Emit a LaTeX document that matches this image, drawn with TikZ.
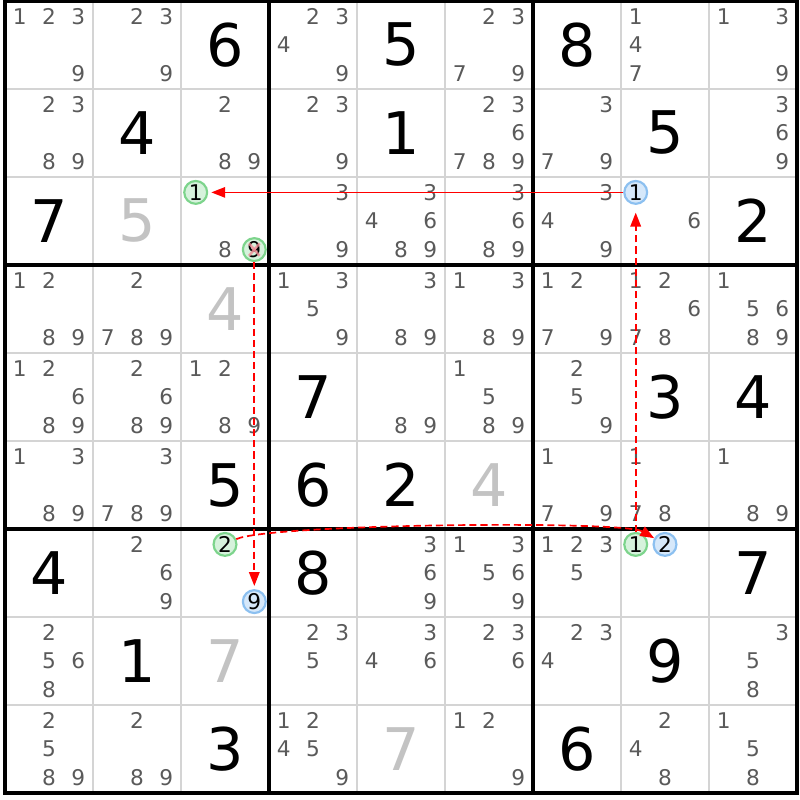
\documentclass[tikz,border=0pt]{standalone}
\usepackage{fontspec}
\setmainfont{DejaVu Sans}
\usetikzlibrary{arrows.meta}

\definecolor{candgray}{RGB}{90,90,90}
\definecolor{solvedgray}{RGB}{195,195,195}
\definecolor{gridgray}{RGB}{212,212,212}
\definecolor{greenline}{RGB}{125,212,140}
\definecolor{greenfill}{RGB}{214,242,220}
\definecolor{blueline}{RGB}{140,192,240}
\definecolor{bluefill}{RGB}{214,232,250}
\definecolor{crosspink}{RGB}{240,140,150}

\newcommand{\cand}[4][]{%
  \node[cand,#1] (r#2c#3-#4) at ({#3-0.5+(mod(#4-1,3)-1)*0.333},{-(#2-0.5)-(floor((#4-1)/3)-1)*0.325}) {#4};}
\newcommand{\candset}[3]{\foreach \d in {#3}{\cand{#1}{#2}{\d}}}
\newcommand{\givennum}[3]{\node[given] (g#1c#2) at (#2-0.5,-#1+0.5) {#3};}
\newcommand{\solvednum}[3]{\node[given,solved] (s#1c#2) at (#2-0.5,-#1+0.5) {#3};}

\begin{document}
\begin{tikzpicture}[
    cand/.style={text=candgray,font=\fontsize{7}{8}\selectfont,inner sep=0pt},
    given/.style={font=\fontsize{19}{20}\selectfont,inner sep=0pt},
    solved/.style={text=solvedgray},
    greenmark/.style={circle,draw=greenline,fill=greenfill,line width=0.7pt,minimum size=0.26cm,text=black},
    bluemark/.style={circle,draw=blueline,fill=bluefill,line width=0.7pt,minimum size=0.26cm,text=black},
    link/.style={red,line width=0.45pt,-{Triangle[length=4.5pt,width=3.4pt]}},
    weak/.style={link,line width=0.55pt,dash pattern=on 2.3pt off 1.3pt}
  ]
    \useasboundingbox (-0.0568,0.0114) rectangle (9.0341,-9.0795);
    % Grid
    \foreach \i in {1,...,8} {
        \draw[gridgray,line width=0.65pt] (\i,0) -- (\i,-9);
        \draw[gridgray,line width=0.65pt] (0,-\i) -- (9,-\i);
    }
    \foreach \i in {3,6} {
        \draw[line width=1pt] (\i,0) -- (\i,-9);
        \draw[line width=1pt] (0,-\i) -- (9,-\i);
    }
    \draw[line width=1pt] (0,0) rectangle (9,-9);

    % Row 1
    \candset{1}{1}{1,2,3,9}
    \candset{1}{2}{2,3,9}
    \givennum{1}{3}{6}
    \candset{1}{4}{2,3,4,9}
    \givennum{1}{5}{5}
    \candset{1}{6}{2,3,7,9}
    \givennum{1}{7}{8}
    \candset{1}{8}{1,4,7}
    \candset{1}{9}{1,3,9}
    % Row 2
    \candset{2}{1}{2,3,8,9}
    \givennum{2}{2}{4}
    \candset{2}{3}{2,8,9}
    \candset{2}{4}{2,3,9}
    \givennum{2}{5}{1}
    \candset{2}{6}{2,3,6,7,8,9}
    \candset{2}{7}{3,7,9}
    \givennum{2}{8}{5}
    \candset{2}{9}{3,6,9}
    % Row 3
    \givennum{3}{1}{7}
    \solvednum{3}{2}{5}
    \cand[greenmark]{3}{3}{1}
    \cand{3}{3}{8}
    \cand[greenmark]{3}{3}{9}
    \candset{3}{4}{3,9}
    \candset{3}{5}{3,4,6,8,9}
    \candset{3}{6}{3,6,8,9}
    \candset{3}{7}{3,4,9}
    \cand[bluemark]{3}{8}{1}
    \cand{3}{8}{6}
    \givennum{3}{9}{2}
    % Row 4
    \candset{4}{1}{1,2,8,9}
    \candset{4}{2}{2,7,8,9}
    \solvednum{4}{3}{4}
    \candset{4}{4}{1,3,5,9}
    \candset{4}{5}{3,8,9}
    \candset{4}{6}{1,3,8,9}
    \candset{4}{7}{1,2,7,9}
    \candset{4}{8}{1,2,6,7,8}
    \candset{4}{9}{1,5,6,8,9}
    % Row 5
    \candset{5}{1}{1,2,6,8,9}
    \candset{5}{2}{2,6,8,9}
    \candset{5}{3}{1,2,8,9}
    \givennum{5}{4}{7}
    \candset{5}{5}{8,9}
    \candset{5}{6}{1,5,8,9}
    \candset{5}{7}{2,5,9}
    \givennum{5}{8}{3}
    \givennum{5}{9}{4}
    % Row 6
    \candset{6}{1}{1,3,8,9}
    \candset{6}{2}{3,7,8,9}
    \givennum{6}{3}{5}
    \givennum{6}{4}{6}
    \givennum{6}{5}{2}
    \solvednum{6}{6}{4}
    \candset{6}{7}{1,7,9}
    \candset{6}{8}{1,7,8}
    \candset{6}{9}{1,8,9}
    % Row 7
    \givennum{7}{1}{4}
    \candset{7}{2}{2,6,9}
    \cand[greenmark]{7}{3}{2}
    \cand[bluemark]{7}{3}{9}
    \givennum{7}{4}{8}
    \candset{7}{5}{3,6,9}
    \candset{7}{6}{1,3,5,6,9}
    \candset{7}{7}{1,2,3,5}
    \cand[greenmark]{7}{8}{1}
    \cand[bluemark]{7}{8}{2}
    \givennum{7}{9}{7}
    % Row 8
    \candset{8}{1}{2,5,6,8}
    \givennum{8}{2}{1}
    \solvednum{8}{3}{7}
    \candset{8}{4}{2,3,5}
    \candset{8}{5}{3,4,6}
    \candset{8}{6}{2,3,6}
    \candset{8}{7}{2,3,4}
    \givennum{8}{8}{9}
    \candset{8}{9}{3,5,8}
    % Row 9
    \candset{9}{1}{2,5,8,9}
    \candset{9}{2}{2,8,9}
    \givennum{9}{3}{3}
    \candset{9}{4}{1,2,4,5,9}
    \solvednum{9}{5}{7}
    \candset{9}{6}{1,2,9}
    \givennum{9}{7}{6}
    \candset{9}{8}{2,4,8}
    \candset{9}{9}{1,5,8}

    % Eliminated candidate
    \draw[crosspink,opacity=0.8,line width=0.8pt] ([shift={(-0.06,0.07)}]r3c3-9.center) -- ([shift={(0.06,-0.07)}]r3c3-9.center);
    \draw[crosspink,opacity=0.8,line width=0.8pt] ([shift={(0.06,0.07)}]r3c3-9.center) -- ([shift={(-0.06,-0.07)}]r3c3-9.center);

    % Links
    \draw[link,shorten >=1pt] (r3c8-1) -- (r3c3-1);
    \draw[weak,shorten >=2.5pt] (r7c8-1) -- (r3c8-1);
    \draw[weak,shorten >=1pt] (r3c3-9) -- (r7c3-9);
    \draw[weak] (r7c3-2) to[out=25,in=150,looseness=0.22] (r7c8-2);
\end{tikzpicture}
\end{document}
